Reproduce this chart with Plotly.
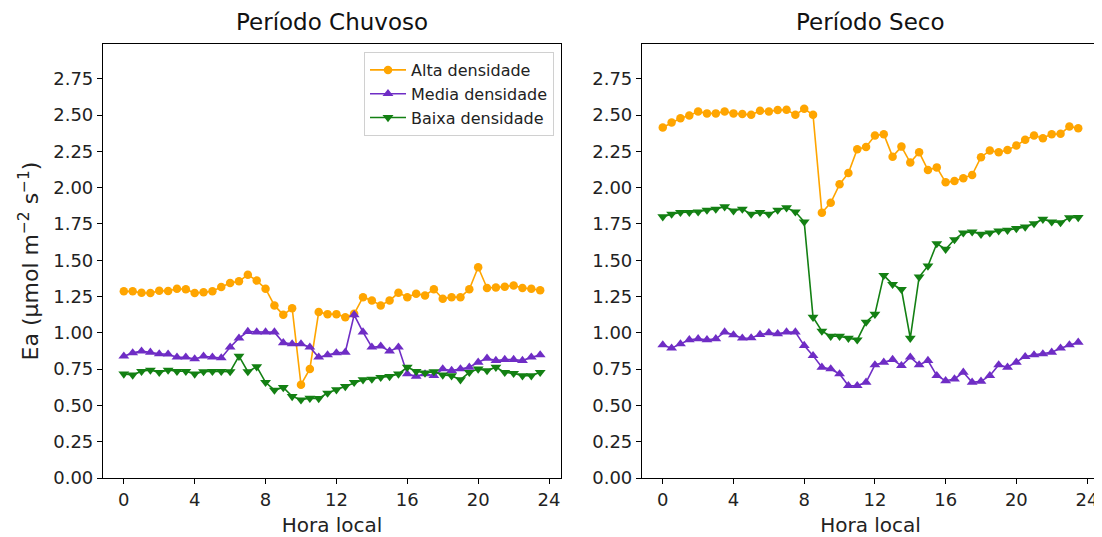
import plotly.graph_objects as go
from plotly.subplots import make_subplots

hours = [i * 0.5 for i in range(48)]

# Período Chuvoso
alta_chuvoso = [1.286, 1.286, 1.276, 1.274, 1.29, 1.288, 1.304, 1.30, 1.274, 1.28, 1.286, 1.316,
                1.343, 1.355, 1.40, 1.36, 1.304, 1.189, 1.124, 1.17, 0.643, 0.751, 1.143, 1.129,
                1.129, 1.108, 1.131, 1.246, 1.223, 1.189, 1.223, 1.276, 1.246, 1.270, 1.258, 1.30,
                1.235, 1.246, 1.246, 1.30, 1.452, 1.309, 1.313, 1.318, 1.327, 1.309, 1.304, 1.293]
media_chuvoso = [0.839, 0.862, 0.874, 0.866, 0.855, 0.853, 0.832, 0.832, 0.820, 0.839, 0.832, 0.827,
                 0.901, 0.963, 1.009, 1.005, 1.005, 1.005, 0.931, 0.924, 0.924, 0.901, 0.832, 0.848,
                 0.862, 0.866, 1.124, 1.005, 0.901, 0.908, 0.874, 0.901, 0.717, 0.701, 0.717, 0.705,
                 0.751, 0.74, 0.751, 0.763, 0.797, 0.825, 0.809, 0.816, 0.816, 0.809, 0.832, 0.848]
baixa_chuvoso = [0.717, 0.71, 0.735, 0.744, 0.728, 0.744, 0.735, 0.735, 0.717, 0.733, 0.735, 0.735,
                 0.733, 0.839, 0.733, 0.767, 0.659, 0.606, 0.624, 0.562, 0.539, 0.55, 0.548, 0.585,
                 0.608, 0.631, 0.659, 0.677, 0.682, 0.694, 0.70, 0.717, 0.763, 0.735, 0.724, 0.733,
                 0.71, 0.705, 0.677, 0.728, 0.751, 0.74, 0.763, 0.728, 0.721, 0.705, 0.705, 0.728]

# Período Seco
alta_seco = [2.415, 2.449, 2.479, 2.498, 2.525, 2.512, 2.512, 2.525, 2.512, 2.507, 2.502, 2.530,
             2.525, 2.535, 2.537, 2.502, 2.544, 2.502, 1.827, 1.896, 2.023, 2.101, 2.265, 2.281,
             2.359, 2.369, 2.214, 2.283, 2.173, 2.244, 2.122, 2.14, 2.037, 2.046, 2.065, 2.088,
             2.21, 2.256, 2.244, 2.26, 2.29, 2.33, 2.359, 2.341, 2.369, 2.371, 2.422, 2.41]
media_seco = [0.917, 0.894, 0.924, 0.952, 0.959, 0.952, 0.959, 1.005, 0.986, 0.963, 0.965, 0.988,
              1.0, 0.993, 1.005, 1.005, 0.912, 0.843, 0.763, 0.751, 0.717, 0.636, 0.636, 0.659,
              0.779, 0.797, 0.816, 0.774, 0.832, 0.779, 0.809, 0.705, 0.67, 0.682, 0.728, 0.659,
              0.666, 0.705, 0.779, 0.763, 0.797, 0.836, 0.848, 0.855, 0.866, 0.894, 0.917, 0.935]
baixa_seco = [1.80, 1.818, 1.83, 1.83, 1.834, 1.846, 1.853, 1.869, 1.841, 1.853, 1.818, 1.83,
              1.818, 1.846, 1.862, 1.834, 1.765, 1.108, 1.012, 0.977, 0.977, 0.963, 0.952, 1.074,
              1.129, 1.396, 1.334, 1.30, 0.963, 1.385, 1.461, 1.615, 1.576, 1.643, 1.689, 1.696,
              1.68, 1.689, 1.703, 1.707, 1.719, 1.73, 1.753, 1.783, 1.765, 1.76, 1.793, 1.795]

series_names = ["Alta densidade", "Media densidade", "Baixa densidade"]
colors = ["#FFA500", "#6F2DC5", "#138013"]
symbols = ["circle", "triangle-up", "triangle-down"]
panel_titles = ["Período Chuvoso", "Período Seco"]
x_ticks = [0, 4, 8, 12, 16, 20, 24]
y_ticks = [0, 0.25, 0.5, 0.75, 1.0, 1.25, 1.5, 1.75, 2.0, 2.25, 2.5, 2.75]

FONT = "DejaVu Sans"
# page body has an 8px default margin; figure is sized so the plot areas land where the reference's are
W, H = 1094, 529
ML, MR, MT, MB = 95, 3, 36, 59
plot_w = W - ML - MR
DOM1 = [0.0, (561 - 103) / plot_w]
DOM2 = [(642 - 103) / plot_w, 1.0]

fig = make_subplots(rows=1, cols=2, horizontal_spacing=0.08)

panels = [
    [alta_chuvoso, media_chuvoso, baixa_chuvoso],
    [alta_seco, media_seco, baixa_seco],
]
for col, data in enumerate(panels, start=1):
    for name, vals, c, s in zip(series_names, data, colors, symbols):
        fig.add_trace(
            go.Scatter(
                x=hours, y=vals, mode="lines+markers", name=name,
                line=dict(color=c, width=1.6),
                marker=dict(color=c, symbol=s, size=8.5 if s == "circle" else 9.5),
                showlegend=(col == 1),
            ),
            row=1, col=col,
        )

axis_common = dict(
    showline=True, linecolor="black", linewidth=1.2, mirror=True,
    ticks="outside", ticklen=5, tickwidth=1.1, tickcolor="black",
    showgrid=False, zeroline=False, automargin=False,
    tickfont=dict(family=FONT, size=18, color="#222"),
)

for col in (1, 2):
    fig.update_xaxes(
        range=[-1.175, 24.675], tickvals=x_ticks, ticktext=[str(t) for t in x_ticks],
        title=dict(text="Hora local", font=dict(family=FONT, size=20, color="#222"), standoff=11),
        row=1, col=col, **axis_common,
    )
    fig.update_yaxes(
        range=[0, 2.99], tickvals=y_ticks, ticktext=[f"{t:.2f}" for t in y_ticks],
        row=1, col=col, **axis_common,
    )

fig.update_yaxes(
    title=dict(text="Ea (μmol m<sup>−2</sup> s<sup>−1</sup>)",
               font=dict(family=FONT, size=22, color="#222"), standoff=8),
    row=1, col=1,
)

fig.update_layout(
    xaxis=dict(domain=DOM1),
    xaxis2=dict(domain=DOM2),
)

for i, t in enumerate(panel_titles):
    dom = DOM1 if i == 0 else DOM2
    fig.add_annotation(
        text=t, x=(dom[0] + dom[1]) / 2, y=1.0, xref="paper", yref="paper",
        xanchor="center", yanchor="bottom", yshift=7, showarrow=False,
        font=dict(family=FONT, size=23, color="#111"),
    )

fig.update_layout(
    width=W, height=H,
    margin=dict(l=ML, r=MR, t=MT, b=MB),
    paper_bgcolor="white", plot_bgcolor="white",
    font=dict(family=FONT, color="#222"),
    legend=dict(
        x=(554 - 103) / plot_w, y=1 - (52 - 44) / (H - MT - MB), xanchor="right", yanchor="top",
        bgcolor="rgba(255,255,255,0.9)", bordercolor="#d0d0d0", borderwidth=1,
        font=dict(family=FONT, size=16, color="#222"),
        tracegroupgap=0, itemwidth=36,
    ),
)

fig.write_html("out.html")
